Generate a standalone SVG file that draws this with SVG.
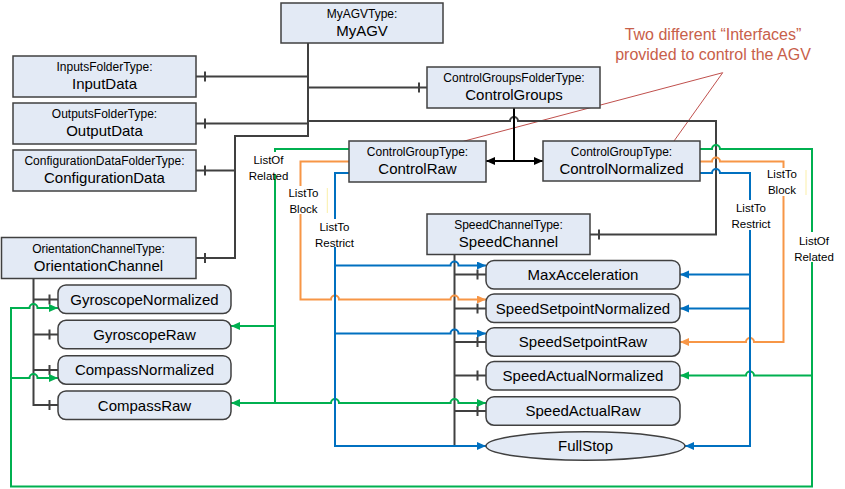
<svg xmlns="http://www.w3.org/2000/svg" width="845" height="489" viewBox="0 0 845 489">
<style>
.box{fill:#E3EAF5;stroke:#404040;stroke-width:1.5}
.t{font-family:"Liberation Sans",Arial,sans-serif;text-anchor:middle;fill:#000}
.ts{font-size:12px}
.tm{font-size:15px}
.lbl{font-family:"Liberation Sans",Arial,sans-serif;text-anchor:middle;fill:#000;font-size:11.5px}
.gr{fill:none;stroke:#404040;stroke-width:2}
.bk{fill:none;stroke:#000;stroke-width:2}
.g{fill:none;stroke:#00B050;stroke-width:2}
.o{fill:none;stroke:#F79646;stroke-width:2}
.b{fill:none;stroke:#0070C0;stroke-width:2}
.ann{fill:none;stroke:#C0504D;stroke-width:1}
.annt{font-family:"Liberation Sans",Arial,sans-serif;text-anchor:middle;fill:#C8604A;font-size:16px}
.bg{fill:#fff}
</style>
<defs>
<marker id="ak" markerUnits="userSpaceOnUse" markerWidth="10" markerHeight="10" refX="9" refY="4" orient="auto"><path d="M0,0 L9,4 L0,8 z" fill="#000"/></marker>
<marker id="ag" markerUnits="userSpaceOnUse" markerWidth="10" markerHeight="10" refX="9" refY="4" orient="auto"><path d="M0,0 L9,4 L0,8 z" fill="#00B050"/></marker>
<marker id="ao" markerUnits="userSpaceOnUse" markerWidth="10" markerHeight="10" refX="9" refY="4" orient="auto"><path d="M0,0 L9,4 L0,8 z" fill="#F79646"/></marker>
<marker id="ab" markerUnits="userSpaceOnUse" markerWidth="10" markerHeight="10" refX="9" refY="4" orient="auto"><path d="M0,0 L9,4 L0,8 z" fill="#0070C0"/></marker>
</defs>

<g id="annotation-lines">
<path class="ann" d="M722.7,72.7 L463.3,141.3 M722.7,72.7 L674,141"/>
</g>

<g id="connectors">
<!-- gray composition connectors -->
<path class="gr" d="M308,43 V136 H235 V258 H196"/>
<path class="gr" d="M308,76.5 H196"/>
<path class="gr" d="M308,123.5 H196"/>
<path class="gr" d="M235,170.5 H196"/>
<path class="gr" d="M308,87.5 H427"/>
<path class="gr" d="M308,121 H510 a4,4 0 0 1 8,0 H716 V234.5 H590"/>
<path class="gr" d="M454.5,254 V446"/>
<path class="gr" d="M454.5,274.5 H486 M454.5,308.5 H486 M454.5,342 H486 M454.5,375.5 H486 M454.5,411 H486"/>
<path class="gr" d="M33.5,278 V405 H58 M33.5,299.5 H58 M33.5,334.5 H58 M33.5,370 H58"/>
<path class="gr" d="M205,71.5 v10 M205,118.5 v10 M205,165.5 v10 M205,253 v10 M419,82.5 v10 M599,229.5 v10 M477.5,269.5 v10 M477.5,303.5 v10 M477.5,337 v10 M477.5,370.5 v10 M477.5,406 v10 M49.5,294.5 v10 M49.5,329.5 v10 M49.5,365 v10 M49.5,400 v10"/>
<!-- black arrows from ControlGroups -->
<path class="bk" d="M514,108 V161"/>
<path class="bk" d="M514,161 H486" marker-end="url(#ak)"/>
<path class="bk" d="M514,161 H543" marker-end="url(#ak)"/>
<!-- green ListOfRelated -->
<path class="g" d="M349,149 H275 V403 H231" marker-end="url(#ag)"/>
<path class="g" d="M275,326 H231" marker-end="url(#ag)"/>
<path class="g" d="M275,403 H331 a4,4 0 0 1 8,0 H450.5 a4,4 0 0 1 8,0 H486" marker-end="url(#ag)"/>
<path class="g" d="M700,149 H712 a4,4 0 0 1 8,0 H812 V486.5 H11 V308 H29.5 a4,4 0 0 1 8,0 H58" marker-end="url(#ag)"/>
<path class="g" d="M11,378 H29.5 a4,4 0 0 1 8,0 H58" marker-end="url(#ag)"/>
<path class="g" d="M812,375.5 H754 a4,4 0 0 0 -8,0 H680" marker-end="url(#ag)"/>
<!-- orange ListToBlock -->
<path class="o" d="M349,161.5 H300.5 V299.5 H331 a4,4 0 0 1 8,0 H450.5 a4,4 0 0 1 8,0 H486" marker-end="url(#ao)"/>
<path class="o" d="M700,161.5 H712 a4,4 0 0 1 8,0 H783.5 V342 H754 a4,4 0 0 0 -8,0 H680" marker-end="url(#ao)"/>
<!-- blue ListToRestrict -->
<path class="b" d="M349,173 H335 V446 H486" marker-end="url(#ab)"/>
<path class="b" d="M335,265.5 H450.5 a4,4 0 0 1 8,0 H486" marker-end="url(#ab)"/>
<path class="b" d="M335,333.5 H450.5 a4,4 0 0 1 8,0 H486" marker-end="url(#ab)"/>
<path class="b" d="M700,173 H712 a4,4 0 0 1 8,0 H750 V446 H685" marker-end="url(#ab)"/>
<path class="b" d="M750,274.5 H680" marker-end="url(#ab)"/>
<path class="b" d="M750,308.5 H680" marker-end="url(#ab)"/>
</g>

<g id="connector-labels">
<rect class="bg" x="250" y="152" width="37" height="22"/>
<text class="lbl" x="268.5" y="164">ListOf</text>
<text class="lbl" x="268.5" y="180">Related</text>
<rect class="bg" x="285" y="186" width="42" height="28"/>
<line x1="327.3" y1="188" x2="327.3" y2="213" stroke="#FBEFA8" stroke-width="1"/>
<text class="lbl" x="303.5" y="197">ListTo</text>
<text class="lbl" x="303.5" y="213">Block</text>
<rect class="bg" x="313" y="219" width="43" height="28"/>
<text class="lbl" x="334.5" y="231">ListTo</text>
<text class="lbl" x="334.5" y="247">Restrict</text>
<rect class="bg" x="764" y="168" width="42" height="28"/>
<line x1="806" y1="170" x2="806" y2="195" stroke="#FBEFA8" stroke-width="1"/>
<text class="lbl" x="782" y="178">ListTo</text>
<text class="lbl" x="782" y="193.5">Block</text>
<rect class="bg" x="730" y="200" width="43" height="30"/>
<text class="lbl" x="751" y="212">ListTo</text>
<text class="lbl" x="751" y="228">Restrict</text>
<rect class="bg" x="794" y="232" width="40" height="30"/>
<text class="lbl" x="814" y="245">ListOf</text>
<text class="lbl" x="814" y="261">Related</text>
</g>

<g id="MyAGV"><rect class="box" x="281" y="3" width="162" height="40"/>
<text class="t ts" x="362" y="18.3">MyAGVType:</text><text class="t tm" x="362" y="36.4">MyAGV</text></g>
<g id="InputData"><rect class="box" x="13" y="56" width="183" height="41"/>
<text class="t ts" x="104.5" y="71.3">InputsFolderType:</text><text class="t tm" x="104.5" y="89.4">InputData</text></g>
<g id="OutputData"><rect class="box" x="13" y="103" width="183" height="41"/>
<text class="t ts" x="104.5" y="118.3">OutputsFolderType:</text><text class="t tm" x="104.5" y="136.4">OutputData</text></g>
<g id="ConfigurationData"><rect class="box" x="13" y="150" width="183" height="41"/>
<text class="t ts" x="104.5" y="165.3">ConfigurationDataFolderType:</text><text class="t tm" x="104.5" y="183.4">ConfigurationData</text></g>
<g id="OrientationChannel"><rect class="box" x="1.5" y="237.5" width="194.5" height="41"/>
<text class="t ts" x="98.5" y="252.8">OrientationChannelType:</text><text class="t tm" x="98.5" y="270.9">OrientationChannel</text></g>
<g id="ControlGroups"><rect class="box" x="427" y="67" width="173" height="41"/>
<text class="t ts" x="514" y="82.3">ControlGroupsFolderType:</text><text class="t tm" x="514" y="100.4">ControlGroups</text></g>
<g id="ControlRaw"><rect class="box" x="349" y="141" width="137" height="41"/>
<text class="t ts" x="417.5" y="156.3">ControlGroupType:</text><text class="t tm" x="417.5" y="174.4">ControlRaw</text></g>
<g id="ControlNormalized"><rect class="box" x="543" y="141" width="157" height="40"/>
<text class="t ts" x="621.5" y="156.3">ControlGroupType:</text><text class="t tm" x="621.5" y="174.4">ControlNormalized</text></g>
<g id="SpeedChannel"><rect class="box" x="427" y="214" width="163" height="40.5"/>
<text class="t ts" x="508.5" y="229.3">SpeedChannelType:</text><text class="t tm" x="508.5" y="247.4">SpeedChannel</text></g>

<g id="GyroscopeNormalized"><rect class="box" x="58" y="285" width="173" height="28.5" rx="8"/>
<text class="t tm" x="144.5" y="304.7">GyroscopeNormalized</text></g>
<g id="GyroscopeRaw"><rect class="box" x="58" y="320.3" width="173" height="28.5" rx="8"/>
<text class="t tm" x="144.5" y="340">GyroscopeRaw</text></g>
<g id="CompassNormalized"><rect class="box" x="58" y="355.7" width="173" height="28.5" rx="8"/>
<text class="t tm" x="144.5" y="375.4">CompassNormalized</text></g>
<g id="CompassRaw"><rect class="box" x="58" y="391" width="173" height="28.5" rx="8"/>
<text class="t tm" x="144.5" y="410.7">CompassRaw</text></g>

<g id="MaxAcceleration"><rect class="box" x="486" y="260.5" width="194" height="28.5" rx="8"/>
<text class="t tm" x="583" y="280.2">MaxAcceleration</text></g>
<g id="SpeedSetpointNormalized"><rect class="box" x="486" y="294" width="194" height="28.5" rx="8"/>
<text class="t tm" x="583" y="313.7">SpeedSetpointNormalized</text></g>
<g id="SpeedSetpointRaw"><rect class="box" x="486" y="327.7" width="194" height="28.5" rx="8"/>
<text class="t tm" x="583" y="347.4">SpeedSetpointRaw</text></g>
<g id="SpeedActualNormalized"><rect class="box" x="486" y="361.5" width="194" height="28.5" rx="8"/>
<text class="t tm" x="583" y="381.2">SpeedActualNormalized</text></g>
<g id="SpeedActualRaw"><rect class="box" x="486" y="396.7" width="194" height="28.5" rx="8"/>
<text class="t tm" x="583" y="416.4">SpeedActualRaw</text></g>
<g id="FullStop"><ellipse class="box" cx="585.5" cy="446" rx="99.5" ry="14.2"/>
<text class="t tm" x="585.5" y="451.4">FullStop</text></g>

<g id="annotation">
<text class="annt" x="713" y="40">Two different “Interfaces”</text>
<text class="annt" x="713" y="60">provided to control the AGV</text>
</g>
</svg>
